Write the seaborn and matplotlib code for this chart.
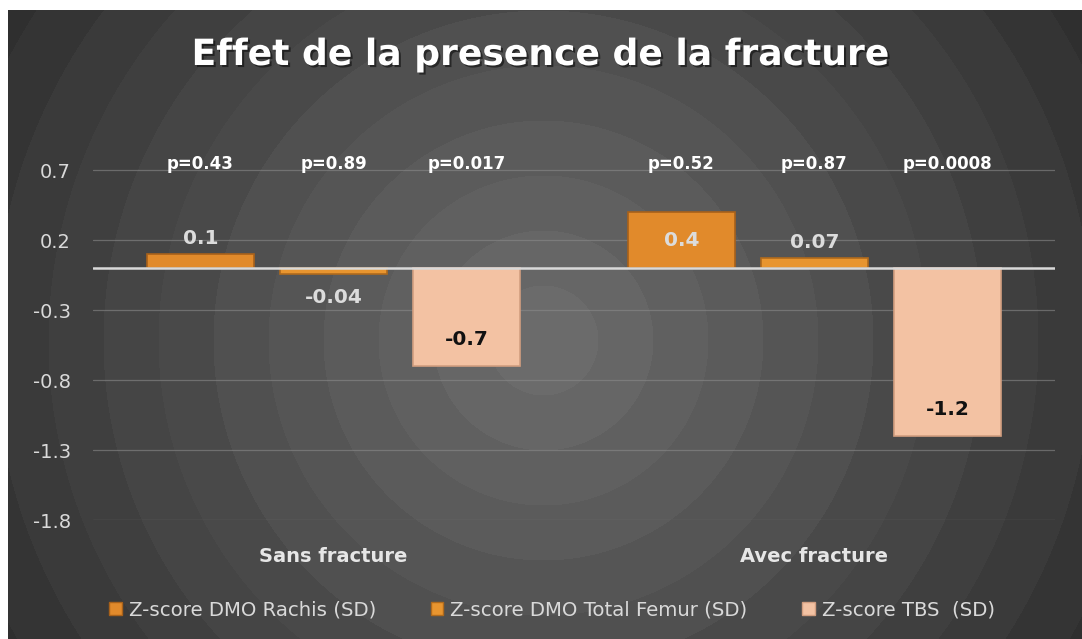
import numpy as np
import pandas as pd
import matplotlib
matplotlib.use('Agg')
import matplotlib.pyplot as plt
import matplotlib.patheffects as pe
import seaborn as sns

# donnees
groupes = ['Sans fracture', 'Avec fracture']
series = ['Z-score DMO Rachis (SD)', 'Z-score DMO Total Femur (SD)', 'Z-score TBS  (SD)']
rachis = [0.1, 0.4]
femur = [-0.04, 0.07]
tbs = [-0.7, -1.2]
p_rachis = ['p=0.43', 'p=0.52']
p_femur = ['p=0.89', 'p=0.87']
p_tbs = ['p=0.017', 'p=0.0008']
yticks = [0.7, 0.2, -0.3, -0.8, -1.3, -1.8]

df = pd.DataFrame({
    'groupe': groupes * 3,
    'serie': [series[0]] * 2 + [series[1]] * 2 + [series[2]] * 2,
    'valeur': rachis + femur + tbs,
})
pvals = [p_rachis, p_femur, p_tbs]
valeurs = [rachis, femur, tbs]

palette = {series[0]: '#e18a2b', series[1]: '#e8952f', series[2]: '#f3c2a3'}
bords = ['#a8611a', '#b06a1c', '#d29e80']
couleur_lbl = ['#dcdcdc', '#dcdcdc', '#111111']
# position des etiquettes: au-dessus, dessous, centre, fin interieure
pos_lbl = [['above', 'center'], ['below', 'above'], ['inside', 'inside']]

sns.set_theme(style='dark')
plt.rcParams['font.family'] = ['DejaVu Sans']

W, H = 1082, 639
fig = plt.figure(figsize=(W / 100, H / 100), dpi=100, facecolor='white')

# fond gris a anneaux concentriques
bg = fig.add_axes([8 / W, 0, 1 - 8 / W, 1 - 10 / H])
yy, xx = np.mgrid[0:H - 10, 0:W - 8]
r = np.hypot(xx - 535, yy - 330)
r = np.floor(r / 55) * 55
img = 0.42 - 0.25 * np.clip(r / 640, 0, 1)
bg.imshow(img, cmap='gray', vmin=0, vmax=1, aspect='auto', interpolation='nearest')
bg.set_axis_off()

ax = fig.add_axes([93 / W, 1 - 520 / H, (1055 - 93) / W, 420 / H])
ax.set_facecolor('none')

sns.barplot(data=df, x='groupe', y='valeur', hue='serie', palette=palette,
            width=0.83, gap=0.2, ax=ax, saturation=1, legend=True, zorder=3)

ax.set_xlim(-0.5, 1.5)
ax.set_ylim(-1.8, 1.2)
ax.set_yticks(yticks)
ax.set_yticklabels([str(t) for t in yticks], color='#d9d9d9', fontsize=14)
ax.tick_params(axis='y', pad=16, length=0)
ax.tick_params(axis='x', pad=19.5, length=0)
ax.set_xticks([0, 1])
ax.set_xticklabels(groupes, color='#e6e6e6', fontsize=14, fontweight='bold')
ax.set_xlabel('')
ax.set_ylabel('')
for t in yticks:
    ax.axhline(t, color='#8a8a8a', lw=0.9, alpha=0.6, zorder=1)
ax.axhline(0, color='#d9d9d9', lw=1.8, zorder=4)
for s in ax.spines.values():
    s.set_visible(False)

offsets = {'above': 0.11, 'below': -0.17, 'center': None, 'inside': 0.19}
for i, cont in enumerate(ax.containers):
    for j, bar in enumerate(cont):
        bar.set_edgecolor(bords[i])
        bar.set_linewidth(1.2)
        x = bar.get_x() + bar.get_width() / 2
        v = valeurs[i][j]
        pos = pos_lbl[i][j]
        if pos == 'center':
            y = v / 2
        else:
            y = v + offsets[pos]
        ax.text(x, y, str(v), ha='center', va='center', color=couleur_lbl[i],
                fontsize=14.5, fontweight='bold', zorder=5)
        ax.text(x, 0.74, pvals[i][j], ha='center', va='center', color='white',
                fontsize=12, fontweight='bold', zorder=5)

leg = ax.legend(loc='center', bbox_to_anchor=((552 - 93) / 962, (520 - 610) / 420), ncol=3,
                frameon=False, fontsize=14.2, handlelength=0.65, handleheight=0.65,
                handletextpad=0.35, columnspacing=2.75)
for txt in leg.get_texts():
    txt.set_color('#d9d9d9')
for h, b in zip(leg.legend_handles, bords):
    h.set_edgecolor(b)
    h.set_linewidth(1)

fig.text(0.5, 1 - 65 / H, 'Effet de la presence de la fracture', ha='center', va='baseline',
         color='white', fontsize=26, fontweight='bold',
         path_effects=[pe.withSimplePatchShadow(offset=(1.5, -1.5), shadow_rgbFace='black', alpha=0.5)])

fig.savefig('out.png', dpi=100, facecolor='white')
